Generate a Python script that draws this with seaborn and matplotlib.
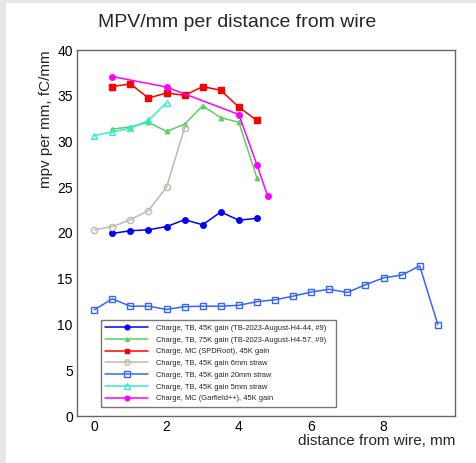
import numpy as np
import pandas as pd
import matplotlib
matplotlib.use("Agg")
import matplotlib.pyplot as plt
from matplotlib.patches import Rectangle
from matplotlib.ticker import MultipleLocator
import seaborn as sns

# ---- data ----
x_tb45 = [0.5, 1.0, 1.5, 2.0, 2.5, 3.0, 3.5, 4.0, 4.5]
y_tb45 = [19.95, 20.25, 20.35, 20.7, 21.45, 20.9, 22.3, 21.4, 21.6]

x_tb75 = [0.5, 1.0, 1.5, 2.0, 2.5, 3.0, 3.5, 4.0, 4.5]
y_tb75 = [31.35, 31.6, 32.1, 31.1, 31.9, 33.9, 32.6, 32.1, 26.0]

x_mc_spd = [0.5, 1.0, 1.5, 2.0, 2.5, 3.0, 3.5, 4.0, 4.5]
y_mc_spd = [36.0, 36.3, 34.75, 35.3, 35.05, 36.0, 35.6, 33.75, 32.3]

x_6mm = [0.0, 0.5, 1.0, 1.5, 2.0, 2.5]
y_6mm = [20.35, 20.7, 21.45, 22.45, 25.0, 31.5]

x_20mm = [0.0, 0.5, 1.0, 1.5, 2.0, 2.5, 3.0, 3.5, 4.0, 4.5, 5.0, 5.5, 6.0, 6.5,
          7.0, 7.5, 8.0, 8.5, 9.0, 9.5]
y_20mm = [11.6, 12.8, 12.0, 12.0, 11.65, 11.95, 12.0, 12.0, 12.1, 12.5, 12.7,
          13.1, 13.55, 13.85, 13.5, 14.35, 15.1, 15.4, 16.4, 10.0]

x_5mm = [0.0, 0.5, 1.0, 1.5, 2.0]
y_5mm = [30.65, 31.05, 31.45, 32.3, 34.25]

x_mc_gar = [0.5, 2.0, 4.0, 4.5, 4.8]
y_mc_gar = [37.1, 35.95, 32.95, 27.45, 24.0]

labels = [
    "Charge, TB, 45K gain (TB-2023-August-H4-44, #9)",
    "Charge, TB, 75K gain (TB-2023-August-H4-57, #9)",
    "Charge, MC (SPDRoot), 45K gain",
    "Charge, TB, 45K gain 6mm straw",
    "Charge, TB, 45K gain 20mm straw",
    "Charge, TB, 45K gain 5mm straw",
    "Charge, MC (Garfield++), 45K gain",
]

x_ticks = [0, 2, 4, 6, 8]
y_ticks = [0, 5, 10, 15, 20, 25, 30, 35, 40]

# ---- style ----
sns.set_style("white")
plt.rcParams["font.family"] = ["Liberation Sans", "DejaVu Sans"]

series = [
    (x_tb45, y_tb45, "#0000ff", "o", "#0000ff", 4.0),
    (x_tb75, y_tb75, "#5fcf5f", "^", "#5fcf5f", 3.2),
    (x_mc_spd, y_mc_spd, "#ff0000", "s", "#ff0000", 4.0),
    (x_6mm, y_6mm, "#c4b8ad", "o", "none", 4.5),
    (x_20mm, y_20mm, "#3366ff", "s", "none", 4.5),
    (x_5mm, y_5mm, "#33eecc", "^", "none", 4.5),
    (x_mc_gar, y_mc_gar, "#ff00ff", "o", "#ff00ff", 4.0),
]

fig = plt.figure(figsize=(4.77, 4.63), dpi=100)
fig.patch.set_facecolor("white")
# grey canvas border (left and top)
fig.patches.append(Rectangle((0, 0), 6 / 477, 1, transform=fig.transFigure,
                             facecolor="#e6e6e6", edgecolor="none", zorder=0))
fig.patches.append(Rectangle((0, 1 - 3 / 463), 1, 3 / 463, transform=fig.transFigure,
                             facecolor="#e6e6e6", edgecolor="none", zorder=0))

ax = fig.add_axes([77 / 477, (463 - 416) / 463, (455 - 77) / 477, (416 - 50) / 463])

for (xs, ys, col, mk, mfc, ms), lab in zip(series, labels):
    df = pd.DataFrame({"x": xs, "y": ys})
    sns.lineplot(data=df, x="x", y="y", ax=ax, color=col, marker=mk,
                 markerfacecolor=mfc, markeredgecolor=col, markersize=ms,
                 markeredgewidth=1.0, linewidth=1.1, label=lab, sort=False)

ax.set_xlim(-0.475, 9.975)
ax.set_ylim(0, 40)
ax.set_xticks(x_ticks)
ax.set_yticks(y_ticks)
ax.xaxis.set_minor_locator(MultipleLocator(0.5))
ax.yaxis.set_minor_locator(MultipleLocator(1))
ax.tick_params(axis="both", which="both", direction="in", colors="#555555",
               labelcolor="black", labelsize=10, top=False, right=False)
ax.tick_params(axis="both", which="major", length=7, width=0.9, pad=3)
ax.tick_params(axis="both", which="minor", length=3.6, width=0.9)
for sp in ax.spines.values():
    sp.set_color("#666666")
    sp.set_linewidth(1.0)

ax.set_xlabel("distance from wire, mm", fontsize=11, loc="right")
ax.xaxis.set_label_coords(1.0, -0.048)
ax.set_ylabel("mpv per mm, fC/mm", fontsize=11, loc="top")
ax.yaxis.set_label_coords(-0.063, 1.0)

fig.text(237 / 477, 1 - 27 / 463, "MPV/mm per distance from wire",
         ha="center", va="baseline", fontsize=14)

leg = ax.legend(loc="lower left", bbox_to_anchor=(0.063, 0.025, 0.622, 0.224),
                mode="expand", fontsize=5.4, frameon=True, fancybox=False,
                framealpha=1, edgecolor="#777777", handlelength=5.7,
                handletextpad=1.1, labelspacing=0.6, borderpad=0.6,
                borderaxespad=0, markerscale=0.85)
leg.get_frame().set_linewidth(1.0)

fig.savefig("out.png", dpi=100)
